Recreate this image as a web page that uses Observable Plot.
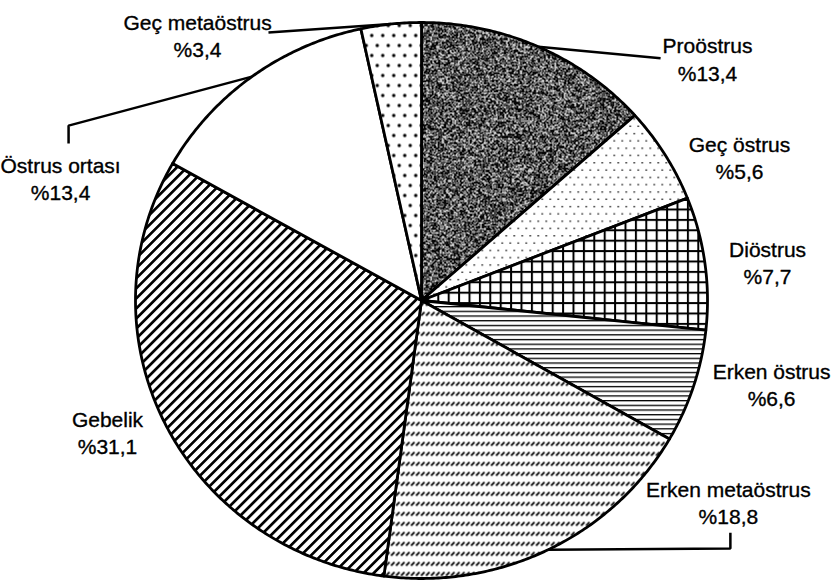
<!DOCTYPE html>
<html>
<head>
<meta charset="utf-8">
<script src="https://cdn.jsdelivr.net/npm/d3@7"></script>
<script src="https://cdn.jsdelivr.net/npm/@observablehq/plot@0.6"></script>
<style>
  html, body { margin: 0; padding: 0; background: #fff; }
  #chart svg { display: block; }
</style>
</head>
<body>
<div id="chart"></div>
<script>
// ---- data ----
const categories = ["Proöstrus", "Geç östrus", "Diöstrus", "Erken östrus", "Erken metaöstrus", "Gebelik", "Östrus ortası", "Geç metaöstrus"];
const percents = [13.4, 5.6, 7.7, 6.6, 18.8, 31.1, 13.4, 3.4];

// ---- annotation layout (chart units, pie radius = 1) ----
const labelX = [1.0, 1.112, 1.21, 1.224, 1.073, -1.098, -1.262, -0.783];
const labelY = [0.871, 0.518, 0.14, -0.299, -0.723, -0.471, 0.442, 0.957];
// leader elbows: from mid-angle edge point to these points (null = no leader)
const leaderPts = [
  [[0.836, 0.871]],
  null, null, null,
  [[1.08, -0.892], [1.08, -0.835]],
  null,
  [[-1.234, 0.629], [-1.234, 0.565]],
  [[-0.535, 0.964]]
];

// ---- styles ----
const fills = ["url(#pNoise)", "url(#pDots)", "url(#pGrid)", "url(#pHoriz)", "url(#pDash)", "url(#pDiag)", "#ffffff", "url(#pBigDots)"];

// ---- geometry from data ----
const total = d3.sum(percents);
const cum = d3.cumsum(percents);
const slices = categories.map((c, i) => {
  const a0 = ((cum[i] - percents[i]) / total) * 2 * Math.PI;
  const a1 = (cum[i] / total) * 2 * Math.PI;
  const n = Math.max(2, Math.ceil((a1 - a0) / (Math.PI / 360)));
  const pts = [{x: 0, y: 0}];
  for (let k = 0; k <= n; k++) {
    const a = a0 + (a1 - a0) * k / n;
    pts.push({x: Math.sin(a), y: Math.cos(a)});
  }
  pts.push({x: 0, y: 0});
  return {c, i, a0, a1, mid: (a0 + a1) / 2, pts};
});

const fmt = v => "%" + v.toFixed(1).replace(".", ",");
const labelData = categories.map((c, i) => ({x: labelX[i], y: labelY[i], t: c + "\n" + fmt(percents[i])}));

const leaderMarks = slices.filter(s => leaderPts[s.i]).map(s => {
  const pts = [{x: Math.sin(s.mid), y: Math.cos(s.mid)}, ...leaderPts[s.i].map(([x, y]) => ({x, y}))];
  return Plot.line(pts, {x: "x", y: "y", stroke: "black", strokeWidth: 2.5, strokeLinejoin: "miter", strokeLinecap: "butt"});
});

const chart = Plot.plot({
  width: 831,
  height: 584,
  marginLeft: 135,
  marginRight: 124,
  marginTop: 22,
  marginBottom: 6,
  x: {domain: [-1, 1], axis: null},
  y: {domain: [-1, 1], axis: null},
  style: {background: "#fff", fontFamily: "'Liberation Sans', Arial, sans-serif"},
  marks: [
    ...slices.map(s => Plot.line(s.pts, {x: "x", y: "y", fill: fills[s.i], stroke: "black", strokeWidth: 2.8, strokeLinejoin: "round"})),
    ...leaderMarks,
    Plot.text(labelData, {x: "x", y: "y", text: "t", fontSize: 21, lineHeight: 1.3, fill: "black", stroke: "black", strokeWidth: 0.35, fontFamily: "'Liberation Sans', Arial, sans-serif"})
  ]
});

d3.select(chart).insert("defs", ":first-child").html(`
  <filter id="fNoise" x="0" y="0" width="1" height="1" color-interpolation-filters="sRGB">
    <feTurbulence type="fractalNoise" baseFrequency="1.5" numOctaves="1" seed="4" stitchTiles="stitch" result="n"/>
    <feColorMatrix in="n" type="matrix" values="0 0 0 0 0  0 0 0 0 0  0 0 0 0 0  -20 0 0 0 10.9"/>
  </filter>
  <pattern id="pNoise" patternUnits="userSpaceOnUse" width="240" height="240">
    <rect width="240" height="240" fill="#fff"/>
    <rect width="240" height="240" fill="#000" filter="url(#fNoise)"/>
  </pattern>
  <pattern id="pDots" patternUnits="userSpaceOnUse" width="8" height="14.6">
    <rect width="8" height="14.6" fill="#fff"/>
    <rect x="1" y="1" width="1.4" height="1.4" fill="#000"/>
    <rect x="5" y="8.3" width="1.4" height="1.4" fill="#000"/>
  </pattern>
  <pattern id="pGrid" patternUnits="userSpaceOnUse" width="10.4" height="10.4">
    <rect width="10.4" height="10.4" fill="#fff"/>
    <rect x="0" y="0" width="2" height="10.4" fill="#000"/>
    <rect x="0" y="0" width="10.4" height="2" fill="#000"/>
  </pattern>
  <pattern id="pHoriz" patternUnits="userSpaceOnUse" width="10" height="4.7">
    <rect width="10" height="4.7" fill="#fff"/>
    <rect x="0" y="0" width="10" height="1.3" fill="#000"/>
  </pattern>
  <pattern id="pDash" patternUnits="userSpaceOnUse" width="5" height="10">
    <rect width="5" height="10" fill="#fff"/>
    <path d="M0.6,5.2 L4.0,1.6" stroke="#000" stroke-width="1.8" stroke-linecap="butt"/>
  </pattern>
  <pattern id="pDiag" patternUnits="userSpaceOnUse" width="7.1" height="7.1" patternTransform="rotate(45)">
    <rect width="7.1" height="7.1" fill="#fff"/>
    <rect x="0" y="0" width="2.7" height="7.1" fill="#000"/>
  </pattern>
  <pattern id="pBigDots" patternUnits="userSpaceOnUse" width="11" height="20">
    <rect width="11" height="20" fill="#fff"/>
    <circle cx="2.75" cy="5" r="1.7" fill="#000"/>
    <circle cx="8.25" cy="15" r="1.7" fill="#000"/>
  </pattern>
`);

document.getElementById("chart").appendChild(chart);
</script>
</body>
</html>
